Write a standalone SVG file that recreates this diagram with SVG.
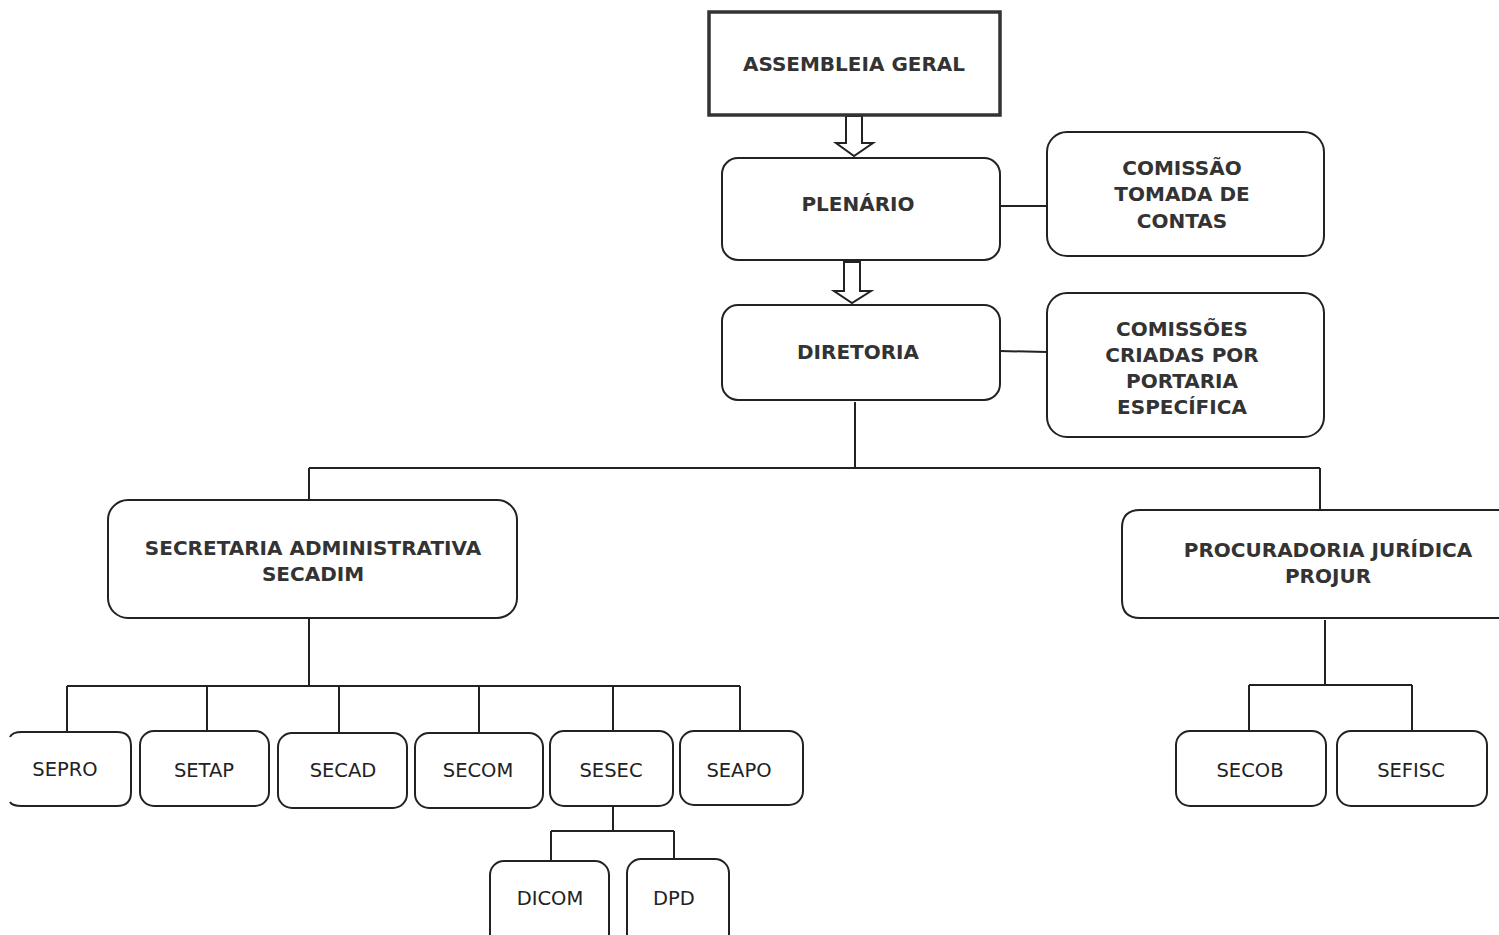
<svg xmlns="http://www.w3.org/2000/svg" width="1499" height="935" viewBox="0 0 1499 935">
<style>
.box{fill:#fff;stroke:#222;stroke-width:2}
.bt{font-family:"DejaVu Sans",Verdana,sans-serif;font-weight:bold;font-size:20px;fill:#333;text-anchor:middle}
.nt{font-family:"DejaVu Sans",Verdana,sans-serif;font-size:19.5px;fill:#222;text-anchor:middle}
.ln{fill:none;stroke:#222;stroke-width:2}
.arr{fill:#fff;stroke:#222;stroke-width:2;stroke-linejoin:miter}
</style>
<rect width="1499" height="935" fill="#fff"/>
<g id="connectors">
<path class="arr" d="M846,116 L862,116 L862,143 L873,143 L854,156 L836,143 L846,143 Z"/>
<path class="arr" d="M844,262 L860,262 L860,291 L871,291 L852,303 L834,291 L844,291 Z"/>
<path class="ln" d="M1000,206 L1047,206"/>
<path class="ln" d="M1000,351 L1047,352"/>
<path class="ln" d="M855,402 L855,468 M309,468 L1320,468 M309,468 L309,500 M1320,468 L1320,510"/>
<path class="ln" d="M309,618 L309,686 M67,686 L740,686 M67,686 L67,731 M207,686 L207,731 M339,686 L339,733 M479,686 L479,733 M613,686 L613,731 M740,686 L740,731"/>
<path class="ln" d="M613,806 L613,831 M551,831 L674,831 M551,831 L551,861 M674,831 L674,859"/>
<path class="ln" d="M1325,620 L1325,685 M1249,685 L1412,685 M1249,685 L1249,731 M1412,685 L1412,731"/>
</g>
<g id="assembleia">
<rect x="709" y="12" width="291" height="103" fill="#fff" stroke="#333" stroke-width="3.5"/>
<text class="bt" x="854" y="71">ASSEMBLEIA GERAL</text>
</g>
<g id="plenario">
<rect class="box" x="722" y="158" width="278" height="102" rx="16"/>
<text class="bt" x="858" y="211">PLENÁRIO</text>
</g>
<g id="diretoria">
<rect class="box" x="722" y="305" width="278" height="95" rx="16"/>
<text class="bt" x="858" y="359">DIRETORIA</text>
</g>
<g id="comissao">
<rect class="box" x="1047" y="132" width="277" height="124" rx="20"/>
<text class="bt" x="1182" y="175">COMISSÃO</text>
<text class="bt" x="1182" y="201">TOMADA DE</text>
<text class="bt" x="1182" y="228">CONTAS</text>
</g>
<g id="comissoes">
<rect class="box" x="1047" y="293" width="277" height="144" rx="20"/>
<text class="bt" x="1182" y="336">COMISSÕES</text>
<text class="bt" x="1182" y="362">CRIADAS POR</text>
<text class="bt" x="1182" y="388">PORTARIA</text>
<text class="bt" x="1182" y="414">ESPECÍFICA</text>
</g>
<g id="secadim">
<rect class="box" x="108" y="500" width="409" height="118" rx="20"/>
<text class="bt" x="313" y="555">SECRETARIA ADMINISTRATIVA</text>
<text class="bt" x="313" y="581">SECADIM</text>
</g>
<g id="projur">
<path class="box" d="M1500,510 L1140,510 Q1122,510 1122,528 L1122,600 Q1122,618 1140,618 L1500,618"/>
<text class="bt" x="1328" y="557">PROCURADORIA JURÍDICA</text>
<text class="bt" x="1328" y="583">PROJUR</text>
</g>
<g id="sepro">
<path class="box" d="M10,737 Q12,732 22,732 L117,732 Q131,732 131,746 L131,792 Q131,806 117,806 L22,806 Q12,806 10,802"/>
<text class="nt" x="65" y="776">SEPRO</text>
</g>
<g id="setap">
<rect class="box" x="140" y="731" width="129" height="75" rx="14"/>
<text class="nt" x="204" y="777">SETAP</text>
</g>
<g id="secad">
<rect class="box" x="278" y="733" width="129" height="75" rx="14"/>
<text class="nt" x="343" y="777">SECAD</text>
</g>
<g id="secom">
<rect class="box" x="415" y="733" width="128" height="75" rx="14"/>
<text class="nt" x="478" y="777">SECOM</text>
</g>
<g id="sesec">
<rect class="box" x="550" y="731" width="123" height="75" rx="14"/>
<text class="nt" x="611" y="777">SESEC</text>
</g>
<g id="seapo">
<rect class="box" x="680" y="731" width="123" height="74" rx="14"/>
<text class="nt" x="739" y="777">SEAPO</text>
</g>
<g id="dicom">
<rect class="box" x="490" y="861" width="119" height="90" rx="14"/>
<text class="nt" x="550" y="905">DICOM</text>
</g>
<g id="dpd">
<rect class="box" x="627" y="859" width="102" height="92" rx="14"/>
<text class="nt" x="674" y="905">DPD</text>
</g>
<g id="secob">
<rect class="box" x="1176" y="731" width="150" height="75" rx="14"/>
<text class="nt" x="1250" y="777">SECOB</text>
</g>
<g id="sefisc">
<rect class="box" x="1337" y="731" width="150" height="75" rx="14"/>
<text class="nt" x="1411" y="777">SEFISC</text>
</g>
</svg>
